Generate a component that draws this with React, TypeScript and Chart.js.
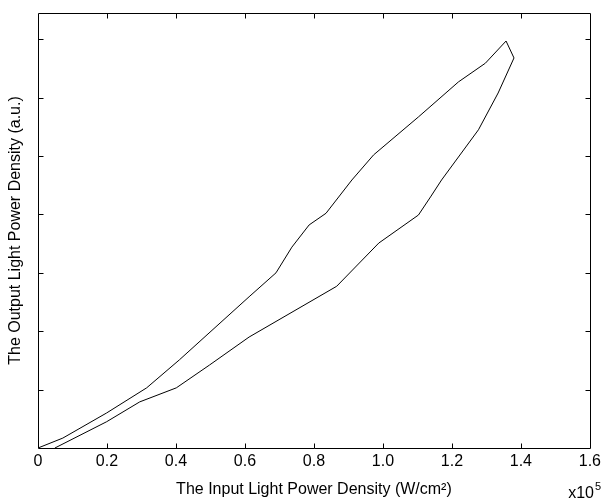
import React, { useEffect, useRef } from 'react';
import { Chart, registerables } from 'chart.js';

Chart.register(...registerables);

// Axis ticks (x in units of 10^5 W/cm^2, y in arbitrary units)
const xTickValues = [0, 0.2, 0.4, 0.6, 0.8, 1.0, 1.2, 1.4, 1.6];
const yTickValues = [0, 1, 2, 3, 4, 5, 6, 7];
const xMin = 0;
const xMax = 1.6;
const yMin = 0;
const yMax = 7.45;

// Rising branch (input power increasing)
const risingX = [0, 0.072, 0.199, 0.315, 0.41, 0.612, 0.69, 0.736, 0.786, 0.835, 0.91, 0.973, 1.103, 1.219, 1.297, 1.357];
const risingY = [0, 0.17, 0.6, 1.03, 1.51, 2.59, 3.0, 3.44, 3.82, 4.02, 4.59, 5.02, 5.67, 6.27, 6.59, 6.97];

// Falling branch (input power decreasing)
const fallingX = [1.357, 1.38, 1.334, 1.277, 1.17, 1.138, 1.103, 0.988, 0.866, 0.612, 0.497, 0.401, 0.295, 0.199, 0.049];
const fallingY = [6.97, 6.68, 6.08, 5.45, 4.59, 4.3, 3.99, 3.51, 2.77, 1.9, 1.42, 1.03, 0.79, 0.45, 0];

const xTitle = 'The Input Light Power Density (W/cm\u00B2)';
const yTitle = 'The Output Light Power Density (a.u.)';

const FONT = '"Liberation Sans", Arial, Helvetica, sans-serif';

const framePlugin = {
  id: 'matlabFrame',
  afterDraw(chart: any) {
    const { ctx, chartArea, scales } = chart;
    const { left, right, top, bottom } = chartArea;
    const x = scales.x;
    const y = scales.y;
    const L = Math.round(left) + 0.5;
    const R = Math.round(right) + 0.5;
    const T = Math.round(top) + 0.5;
    const B = Math.round(bottom) + 0.5;
    ctx.save();
    ctx.strokeStyle = '#000';
    ctx.lineWidth = 1;
    ctx.beginPath();
    ctx.rect(L, T, R - L, B - T);
    ctx.stroke();
    const len = 5;
    ctx.beginPath();
    xTickValues.forEach((v) => {
      if (v === xMin || v === xMax) return;
      const px = Math.round(x.getPixelForValue(v)) + 0.5;
      ctx.moveTo(px, B);
      ctx.lineTo(px, B - len);
      ctx.moveTo(px, T);
      ctx.lineTo(px, T + len);
    });
    yTickValues.forEach((v) => {
      if (v === yMin || v === yMax) return;
      const py = Math.round(y.getPixelForValue(v)) + 0.5;
      ctx.moveTo(L, py);
      ctx.lineTo(L + len, py);
      ctx.moveTo(R, py);
      ctx.lineTo(R - len, py);
    });
    ctx.stroke();
    // exponent label
    ctx.fillStyle = '#000';
    ctx.textBaseline = 'alphabetic';
    ctx.textAlign = 'right';
    ctx.font = `16px ${FONT}`;
    ctx.fillText('x10', 594, 498);
    ctx.textAlign = 'left';
    ctx.font = `11px ${FONT}`;
    ctx.fillText('5', 595, 490);
    ctx.restore();
  },
};

export default function App() {
  const canvasRef = useRef<HTMLCanvasElement | null>(null);

  useEffect(() => {
    if (!canvasRef.current) return;
    const chart = new Chart(canvasRef.current, {
      type: 'scatter',
      data: {
        datasets: [
          {
            data: risingX.map((v, i) => ({ x: v, y: risingY[i] })),
            showLine: true,
            borderColor: '#000',
            borderWidth: 1,
            pointRadius: 0,
            tension: 0,
          },
          {
            data: fallingX.map((v, i) => ({ x: v, y: fallingY[i] })),
            showLine: true,
            borderColor: '#000',
            borderWidth: 1,
            pointRadius: 0,
            tension: 0,
          },
        ],
      },
      options: {
        animation: false,
        responsive: false,
        devicePixelRatio: 1,
        layout: { padding: { top: 13, right: 13, left: 0, bottom: 0 } },
        plugins: {
          legend: { display: false },
          tooltip: { enabled: false },
        },
        scales: {
          x: {
            type: 'linear',
            position: 'bottom',
            min: xMin,
            max: xMax,
            afterBuildTicks: (axis: any) => {
              axis.ticks = xTickValues.map((v) => ({ value: v }));
            },
            afterFit: (axis: any) => {
              axis.height = 53;
            },
            ticks: {
              color: '#000',
              font: { size: 16, family: FONT },
              padding: 4,
              maxRotation: 0,
              autoSkip: false,
              callback: (v: any) => (Number(v) === 0 ? '0' : Number(v).toFixed(1)),
            },
            grid: { display: false, drawTicks: false },
            border: { display: false },
            title: {
              display: true,
              text: xTitle,
              color: '#000',
              font: { size: 16, family: FONT },
              padding: { top: 0, bottom: 2 },
            },
          },
          y: {
            type: 'linear',
            min: yMin,
            max: yMax,
            afterFit: (axis: any) => {
              axis.width = 38;
            },
            ticks: { display: false },
            grid: { display: false, drawTicks: false },
            border: { display: false },
            title: {
              display: true,
              text: yTitle,
              color: '#000',
              font: { size: 16, family: FONT },
              padding: { top: 6, bottom: 0 },
            },
          },
        },
      },
      plugins: [framePlugin],
    });
    return () => chart.destroy();
  }, []);

  return (
    <div style={{ position: 'absolute', left: 0, top: 0, width: 605, height: 501 }}>
      <canvas ref={canvasRef} width={605} height={501} style={{ display: 'block' }} />
    </div>
  );
}
